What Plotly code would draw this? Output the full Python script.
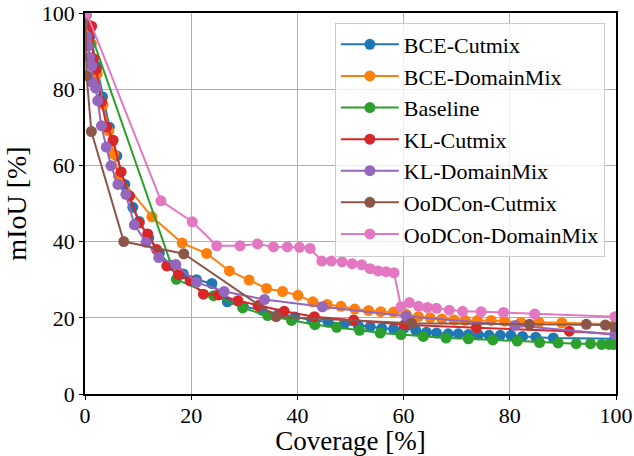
import plotly.graph_objects as go

names = ["BCE-Cutmix", "BCE-DomainMix", "Baseline", "KL-Cutmix",
         "KL-DomainMix", "OoDCon-Cutmix", "OoDCon-DomainMix"]
colors = ["#1f77b4", "#ff7f0e", "#2ca02c", "#d62728", "#9467bd", "#8c564b", "#e377c2"]

bce_cutmix_x = [0.2, 1.0, 2.2, 3.3, 4.6, 6.0, 7.5, 9.0, 10.2, 12.0, 14.0, 16.0, 18.5, 21.0, 23.9,
                26.8, 29.8, 33.3, 36.5, 39.5, 42.7, 45.8, 48.8, 51.5, 53.7, 55.9, 58.1, 60.1, 62.3,
                64.3, 66.2, 68.4, 70.3, 72.2, 74.1, 76.1, 78.2, 80.2, 82.4, 84.9, 88.2, 99.8]
bce_cutmix_y = [99.5, 94.0, 86.0, 78.0, 70.0, 62.5, 55.0, 49.0, 45.3, 41.0, 37.0, 33.8, 31.5, 30.0, 29.0,
                24.2, 23.0, 22.0, 21.0, 20.2, 19.4, 18.8, 18.4, 17.9, 17.7, 17.2, 17.1, 17.3, 16.7,
                16.2, 16.0, 15.8, 15.8, 15.6, 15.5, 15.4, 15.4, 15.4, 15.1, 14.9, 14.7, 14.5]

bce_dm_x = [0.2, 1.2, 2.3, 3.4, 4.5, 5.4, 6.3, 12.6, 18.3, 22.9, 27.2, 30.9, 34.2, 37.2, 40.1,
            42.9, 45.6, 48.2, 50.8, 53.4, 55.7, 58.1, 60.5, 62.8, 65.0, 67.2, 69.5, 71.6, 73.9,
            76.5, 79.0, 82.1, 85.5, 89.8, 99.8]
bce_dm_y = [99.5, 92.0, 84.0, 76.0, 69.0, 63.0, 57.2, 46.5, 39.6, 36.9, 32.3, 29.9, 27.7, 26.9, 25.9,
            24.2, 23.5, 23.0, 22.3, 21.9, 21.6, 21.5, 20.9, 20.3, 20.0, 19.7, 19.4, 19.3, 19.3,
            19.3, 19.1, 18.8, 18.8, 18.7, 18.3]

base_x = [0.5, 17.2, 24.2, 29.7, 34.4, 38.9, 43.3, 47.4, 51.7, 55.6, 59.5, 63.7, 68.0, 72.2,
          76.8, 81.4, 85.6, 89.1, 92.5, 95.2, 97.3, 98.7, 99.6]
base_y = [97.0, 30.1, 25.8, 22.6, 20.6, 19.3, 18.2, 17.5, 16.7, 16.0, 15.6, 15.1, 14.7, 14.5,
          14.2, 13.9, 13.5, 13.4, 13.2, 13.2, 13.0, 13.0, 13.0]

kl_cutmix_x = [0.2, 1.25, 1.6, 2.1, 3.1, 4.1, 5.3, 6.8, 8.4, 10.2, 11.8, 13.5, 15.4, 17.6, 19.8,
               22.3, 25.1, 28.8, 32.6, 37.5, 43.2, 50.6, 60.2, 73.7, 91.2, 99.8]
kl_cutmix_y = [99.5, 96.5, 88.0, 85.2, 76.7, 70.1, 66.6, 58.3, 52.0, 44.9, 42.0, 37.9, 33.6, 31.3, 29.7,
               26.2, 26.0, 24.5, 23.2, 21.7, 20.3, 19.4, 18.2, 17.4, 16.5, 15.7]

kl_dm_x = [0.2, 0.3, 0.6, 0.9, 1.3, 1.4, 2.0, 2.4, 3.1, 4.0, 4.9, 6.2, 7.7, 9.3, 11.5, 13.9,
           17.1, 21.0, 26.2, 33.8, 44.7, 60.5, 81.0, 99.8]
kl_dm_y = [99.5, 93.9, 91.3, 88.3, 86.1, 81.8, 80.3, 77.0, 70.4, 64.8, 59.9, 55.0, 52.4, 44.4, 39.8, 35.8,
           34.0, 29.3, 26.9, 24.8, 22.9, 20.4, 18.0, 15.6]

ood_cutmix_x = [0.1, 0.3, 1.2, 7.3, 18.6, 36.0, 61.5, 83.7, 94.4, 98.0, 99.7]
ood_cutmix_y = [100.0, 83.6, 68.9, 40.0, 36.8, 20.3, 18.6, 18.3, 18.3, 18.1, 17.7]

ood_dm_x = [0.3, 14.3, 20.2, 24.8, 29.2, 32.5, 35.5, 38.1, 40.4, 42.4, 44.6, 46.4, 48.4, 50.3,
            52.1, 53.7, 55.2, 56.7, 58.2, 59.5, 61.1, 62.8, 64.5, 66.2, 68.6, 71.1, 74.6, 78.8,
            84.7, 99.8]
ood_dm_y = [100.0, 50.7, 45.2, 38.9, 38.9, 39.4, 38.6, 38.6, 38.5, 38.2, 34.9, 34.9, 34.7, 34.2,
            33.9, 32.9, 32.3, 32.1, 31.8, 22.9, 24.0, 23.0, 22.7, 22.5, 22.0, 21.7, 21.6, 21.4,
            21.0, 20.3]

series = [(bce_cutmix_x, bce_cutmix_y), (bce_dm_x, bce_dm_y), (base_x, base_y),
          (kl_cutmix_x, kl_cutmix_y), (kl_dm_x, kl_dm_y), (ood_cutmix_x, ood_cutmix_y),
          (ood_dm_x, ood_dm_y)]

x_ticks = [0, 20, 40, 60, 80, 100]
y_ticks = [0, 20, 40, 60, 80, 100]

FONT = "Liberation Serif, Times New Roman, serif"

fig = go.Figure()
for name, col, (xs, ys) in zip(names, colors, series):
    fig.add_trace(go.Scatter(
        x=xs, y=ys, name=name, mode="lines+markers",
        line=dict(color=col, width=2),
        marker=dict(color=col, size=11),
    ))

axis_common = dict(
    range=[0, 100], showgrid=True, gridcolor="#b0b0b0", gridwidth=1,
    showline=True, linecolor="black", linewidth=1.5, mirror=True,
    ticks="outside", ticklen=4, tickwidth=1.2, tickcolor="black",
    tickfont=dict(family=FONT, size=22, color="black"),
    zeroline=False, automargin=False, ticklabeloverflow="allow",
)

fig.update_xaxes(**axis_common, tickvals=x_ticks, ticklabelstandoff=-3,
                 title=dict(text="Coverage [%]", font=dict(family=FONT, size=27, color="black"),
                            standoff=1))
fig.update_yaxes(**axis_common, tickvals=y_ticks,
                 title=dict(text="mIoU [%]", font=dict(family=FONT, size=28, color="black"),
                            standoff=7))

fig.update_layout(
    width=634, height=456,
    margin=dict(l=85, r=18, t=13, b=62, autoexpand=False),
    plot_bgcolor="white", paper_bgcolor="white",
    font=dict(family=FONT, color="black"),
    legend=dict(
        x=0.979, y=0.975, xanchor="right", yanchor="top",
        font=dict(family=FONT, size=22, color="black"),
        bgcolor="rgba(255,255,255,0.8)", bordercolor="#cccccc", borderwidth=1,
        itemwidth=58,
    ),
)

fig.write_html("out.html", post_script="document.body.style.margin='0';",
               config={"displayModeBar": False})
